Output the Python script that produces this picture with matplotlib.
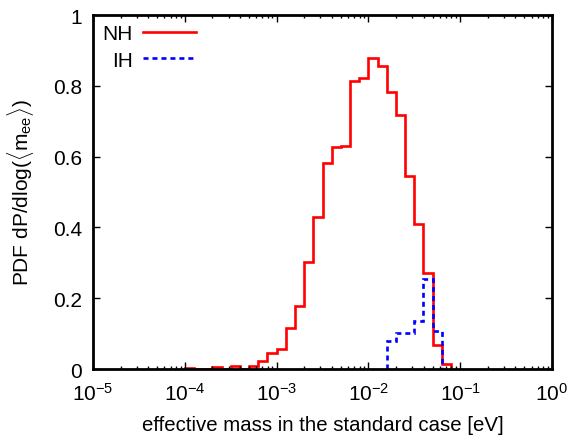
import numpy as np
import matplotlib
matplotlib.use("Agg")
import matplotlib.pyplot as plt
from matplotlib.ticker import LogLocator, NullFormatter

plt.rcParams['font.family'] = ['Liberation Sans', 'DejaVu Sans']
plt.rcParams['mathtext.fontset'] = 'custom'
plt.rcParams['mathtext.rm'] = 'Liberation Sans'
plt.rcParams['mathtext.it'] = 'Liberation Sans:italic'
plt.rcParams['mathtext.sf'] = 'Liberation Sans'

# log10 bin edges (eV)
nh_log_edges = [-4.0, -3.9, -3.8, -3.7, -3.6, -3.5, -3.4, -3.3, -3.2, -3.1,
                -3.0, -2.9, -2.8, -2.7, -2.6, -2.5, -2.4, -2.3, -2.2, -2.1,
                -2.0, -1.9, -1.8, -1.7, -1.6, -1.5, -1.4, -1.3, -1.2, -1.1]
nh_values = [0.004, 0.0, 0.0, 0.005, 0.0, 0.008, 0.0, 0.009, 0.024, 0.046,
             0.057, 0.117, 0.177, 0.301, 0.429, 0.582, 0.626, 0.631, 0.813,
             0.823, 0.879, 0.857, 0.782, 0.718, 0.546, 0.409, 0.272, 0.069, 0.013]

ih_log_edges = [-1.8, -1.7, -1.6, -1.5, -1.4, -1.3, -1.2]
ih_values = [0.078, 0.103, 0.103, 0.135, 0.255, 0.108]

x_ticks = [1e-5, 1e-4, 1e-3, 1e-2, 1e-1, 1e0]
x_labels = [r'$\mathregular{10^{-5}}$', r'$\mathregular{10^{-4}}$', r'$\mathregular{10^{-3}}$',
            r'$\mathregular{10^{-2}}$', r'$\mathregular{10^{-1}}$', r'$\mathregular{10^{0}}$']
y_ticks = [0, 0.2, 0.4, 0.6, 0.8, 1.0]
y_labels = ['0', '0.2', '0.4', '0.6', '0.8', '1']

fig = plt.figure(figsize=(5.70, 4.39), dpi=100)
ax = fig.add_axes([93/570, 1-370/439, (552-93)/570, (370-16)/439])

ax.stairs(nh_values, edges=10**np.array(nh_log_edges), color='#ff0000', lw=1.9,
          label='NH', baseline=0)
ax.stairs(ih_values, edges=10**np.array(ih_log_edges), color='#0000ff', lw=1.9,
          linestyle=(0, (1.9, 1.5)), label='IH', baseline=0)

ax.set_xscale('log')
ax.set_xlim(1e-5, 1)
ax.set_ylim(0, 1)
ax.set_xticks(x_ticks)
ax.set_xticklabels(x_labels)
ax.xaxis.set_minor_locator(LogLocator(base=10, subs=np.arange(2, 10)))
ax.xaxis.set_minor_formatter(NullFormatter())
ax.set_yticks(y_ticks)
ax.set_yticklabels(y_labels)

for s in ax.spines.values():
    s.set_linewidth(2.0)
ax.tick_params(which='both', direction='in', top=True, right=True, width=1.0, color='black')
ax.tick_params(which='major', length=5, labelsize=15, pad=9)
ax.tick_params(which='minor', length=2.5)
ax.tick_params(axis='y', which='major', pad=8)

ax.set_xlabel('effective mass in the standard case [eV]', fontsize=14.7, labelpad=8)
ax.set_ylabel(r'PDF dP/dlog($\langle$m$_{\mathregular{ee}}\rangle$)', fontsize=15, labelpad=12)

leg = ax.legend(loc='upper left', markerfirst=False, frameon=False, fontsize=15,
                handlelength=2.55, handletextpad=0.5, labelspacing=0.35,
                borderaxespad=0.1, borderpad=0.35)

fig.savefig('out.png', dpi=100)
